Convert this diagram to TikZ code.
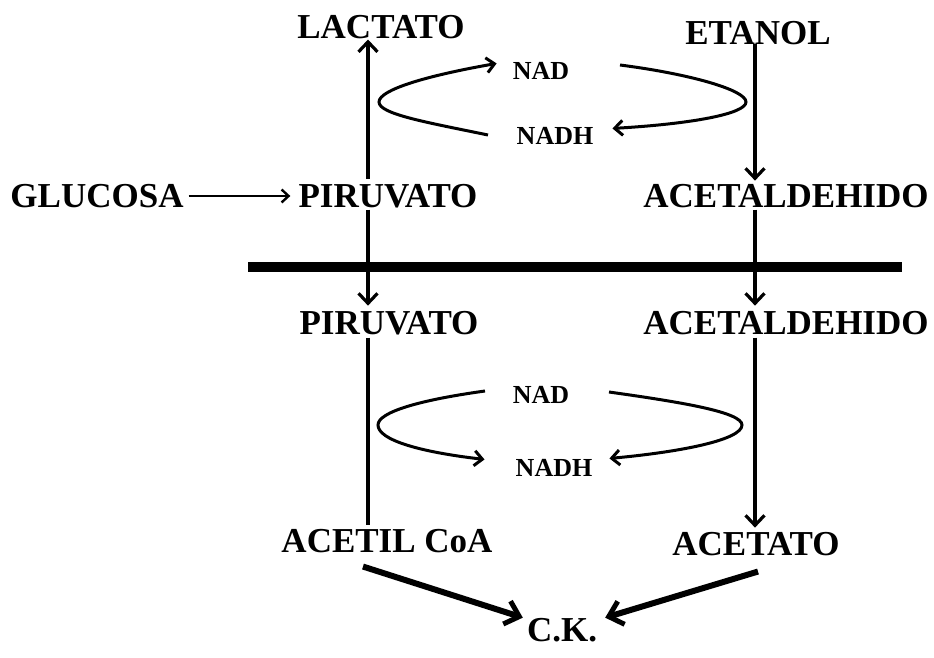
\documentclass[tikz,border=0pt]{standalone}
\usepackage{fontspec}
\setmainfont{Liberation Serif}
\usetikzlibrary{arrows.meta,calc}
\begin{document}
\begin{tikzpicture}[x=1pt,y=-1pt,
  big/.style={font=\fontsize{35}{40}\selectfont\bfseries, inner sep=0pt, anchor=base},
  small/.style={font=\fontsize{26}{30}\selectfont\bfseries, inner sep=0pt, anchor=base},
  vline/.style={line width=3.6pt},
  varrow/.style={line width=3.6pt, -{Straight Barb[length=10pt,width=19pt,line width=3.2pt]}},
  carrow/.style={line width=3pt, -{Straight Barb[length=8pt,width=15pt,line width=3pt]}},
  karrow/.style={line width=6pt, -{Straight Barb[length=13pt,width=24pt,line width=5pt]}},
  garrow/.style={line width=2.6pt, -{Straight Barb[length=7pt,width=13pt,line width=2.4pt]}}
]
\useasboundingbox (0,0) rectangle (934,658);
% nodes
\node[big] (lac) at (381,39) {LACTATO};
\node[big] (eta) at (758,45) {ETANOL};
\node[small] (nad1) at (541,80) {NAD};
\node[small] (nadh1) at (555,144) {NADH};
\node[big] (glu) at (97,207) {GLUCOSA};
\node[big] (pir1) at (388,207) {PIRUVATO};
\node[big] (ace1) at (786,207) {ACETALDEHIDO};
\node[big] (pir2) at (389,334) {PIRUVATO};
\node[big] (ace2) at (786,334) {ACETALDEHIDO};
\node[small] (nad2) at (541,403) {NAD};
\node[small] (nadh2) at (554,476) {NADH};
\node[big] (acoa) at (387,552) {ACETIL CoA};
\node[big] (acet) at (756,555) {ACETATO};
\node[big] (ck) at (562,641) {C.K.};
% vertical line positions
\coordinate (lx) at (368,0);
\coordinate (rx) at (755,0);
% separator bar
\coordinate (barL) at (248,267);
\coordinate (barR) at (902,267);
\draw[line width=10pt] (barL) -- (barR);
% glucose arrow
\draw[garrow] (glu.east |- 0,196) ++(5,0) coordinate (g1) -- ($(pir1.west |- 0,196)+(-8,0)$) coordinate (g2);
% vertical arrows
\draw[varrow] ($(pir1.north -| lx)+(0,-5)$) -- ($(lac.south -| lx)+(0,0)$);
\draw[varrow] ($(eta.south -| rx)+(0,-2)$) -- ($(ace1.north -| rx)+(0,-3)$);
\draw[varrow] ($(pir1.south -| lx)+(0,2)$) -- ($(pir2.north -| lx)+(0,-5)$);
\draw[varrow] ($(ace1.south -| rx)+(0,2)$) -- ($(ace2.north -| rx)+(0,-5)$);
\draw[vline] ($(pir2.south -| lx)+(0,3)$) -- ($(acoa.north -| lx)+(0,-4)$);
\draw[varrow] ($(ace2.south -| rx)+(0,3)$) -- ($(acet.north -| rx)+(0,-4)$);
% bottom arrows
\draw[karrow] ($(acoa.south)+(-24,14)$) -- ($(ck.west)+(-4,-12)$);
\draw[karrow] ($(acet.south)+(2,16)$) -- ($(ck.east)+(8,-12)$);
% NAD cycles upper
\coordinate (u1s) at (488,135);
\coordinate (u1v) at (379,102);
\coordinate (u2s) at (620,65);
\coordinate (u2v) at (746,102);
\draw[carrow] (u1s) .. controls (425,122) and (379,114) .. (u1v)
  .. controls (379,90) and (425,76) .. ($(nad1.west)+(-16,-8)$);
\draw[carrow] (u2s) .. controls (690,74) and (746,90) .. (u2v)
  .. controls (746,114) and (690,124) .. ($(nadh1.east)+(19,-7)$);
% NAD cycles lower
\coordinate (l1s) at (485,391);
\coordinate (l1v) at (378,425);
\coordinate (l2s) at (609,392);
\coordinate (l2v) at (742,425);
\draw[carrow] (l1s) .. controls (420,400) and (378,412) .. (l1v)
  .. controls (378,440) and (420,452) .. ($(nadh2.west)+(-31,-8)$);
\draw[carrow] (l2s) .. controls (680,402) and (742,412) .. (l2v)
  .. controls (742,440) and (680,452) .. ($(nadh2.east)+(17,-9)$);
\end{tikzpicture}
\end{document}
